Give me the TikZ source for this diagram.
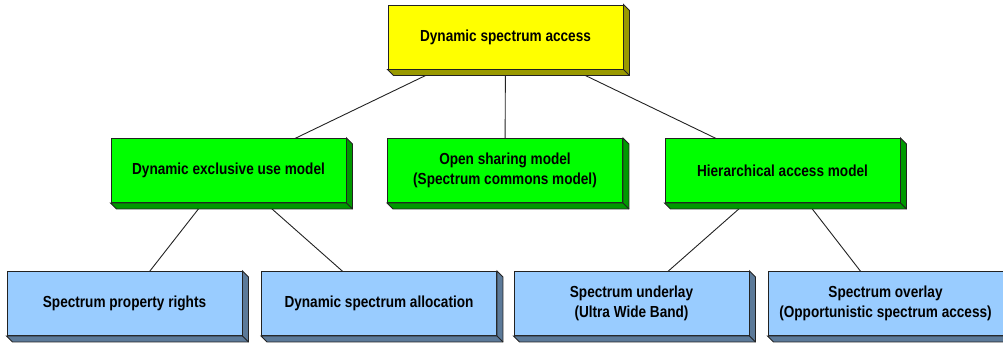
\documentclass[tikz,border=0pt]{standalone}
\usepackage{fontspec}
\setmainfont{Liberation Sans}[FakeStretch=0.85]
\usetikzlibrary{calc,backgrounds}
\definecolor{yfront}{HTML}{FFFF00}
\definecolor{yside}{HTML}{999900}
\definecolor{gfront}{HTML}{00FF00}
\definecolor{gside}{HTML}{009900}
\definecolor{bfront}{HTML}{99CCFF}
\definecolor{bside}{HTML}{5C7A99}
\definecolor{edge}{HTML}{222222}
\tikzset{
  box/.style={draw=edge, line width=0.9pt, rectangle, inner sep=0pt,
    minimum width=235pt, minimum height=64pt, align=center,
    font=\bfseries\fontsize{16}{19.5}\selectfont, text=black},
  ybox/.style={box, fill=yfront},
  gbox/.style={box, fill=gfront},
  bbox/.style={box, fill=bfront},
  link/.style={draw=edge, line width=0.9pt},
  sideface/.style={draw=edge, line width=0.9pt, line join=miter},
}
\newcommand{\extrude}[2]{%
  \filldraw[sideface, fill=#2] (#1.north east) -- ($(#1.north east)+(6,6)$) -- ($(#1.south east)+(6,6)$) -- ($(#1.south west)+(6,6)$) -- (#1.south west) -- (#1.south east) -- cycle;
  \draw[sideface] (#1.south east) -- ($(#1.south east)+(6,6)$);
}
\begin{document}
\begin{tikzpicture}[x=1pt,y=-1pt]
\useasboundingbox (0,0) rectangle (1003,343);
\node[ybox] (dsa) at (505.5,37) {Dynamic spectrum access};
\node[gbox] (deu) at (228.5,170.5) {Dynamic exclusive use model};
\node[gbox] (osm) at (505,170.5) {Open sharing model\\(Spectrum commons model)};
\node[gbox] (ham) at (782.5,170.5) {Hierarchical access model};
\node[bbox] (spr) at (124.5,303.5) {Spectrum property rights};
\node[bbox] (dsp) at (379,303.5) {Dynamic spectrum allocation};
\node[bbox] (sud) at (631.5,303.5) {Spectrum underlay\\(Ultra Wide Band)};
\node[bbox] (sov) at (885.5,303.5) {Spectrum overlay\\(Opportunistic spectrum access)};
\extrude{dsa}{yside}
\extrude{deu}{gside}
\extrude{osm}{gside}
\extrude{ham}{gside}
\extrude{spr}{bside}
\extrude{dsp}{bside}
\extrude{sud}{bside}
\extrude{sov}{bside}
\begin{scope}[on background layer]
\draw[link] (dsa.center) -- (deu.center);
\draw[link] (dsa.center) -- (osm.center);
\draw[link] (dsa.center) -- (ham.center);
\draw[link] (deu.center) -- (spr.center);
\draw[link] (deu.center) -- (dsp.center);
\draw[link] (ham.center) -- (sud.center);
\draw[link] (ham.center) -- (sov.center);
\end{scope}
\end{tikzpicture}
\end{document}
